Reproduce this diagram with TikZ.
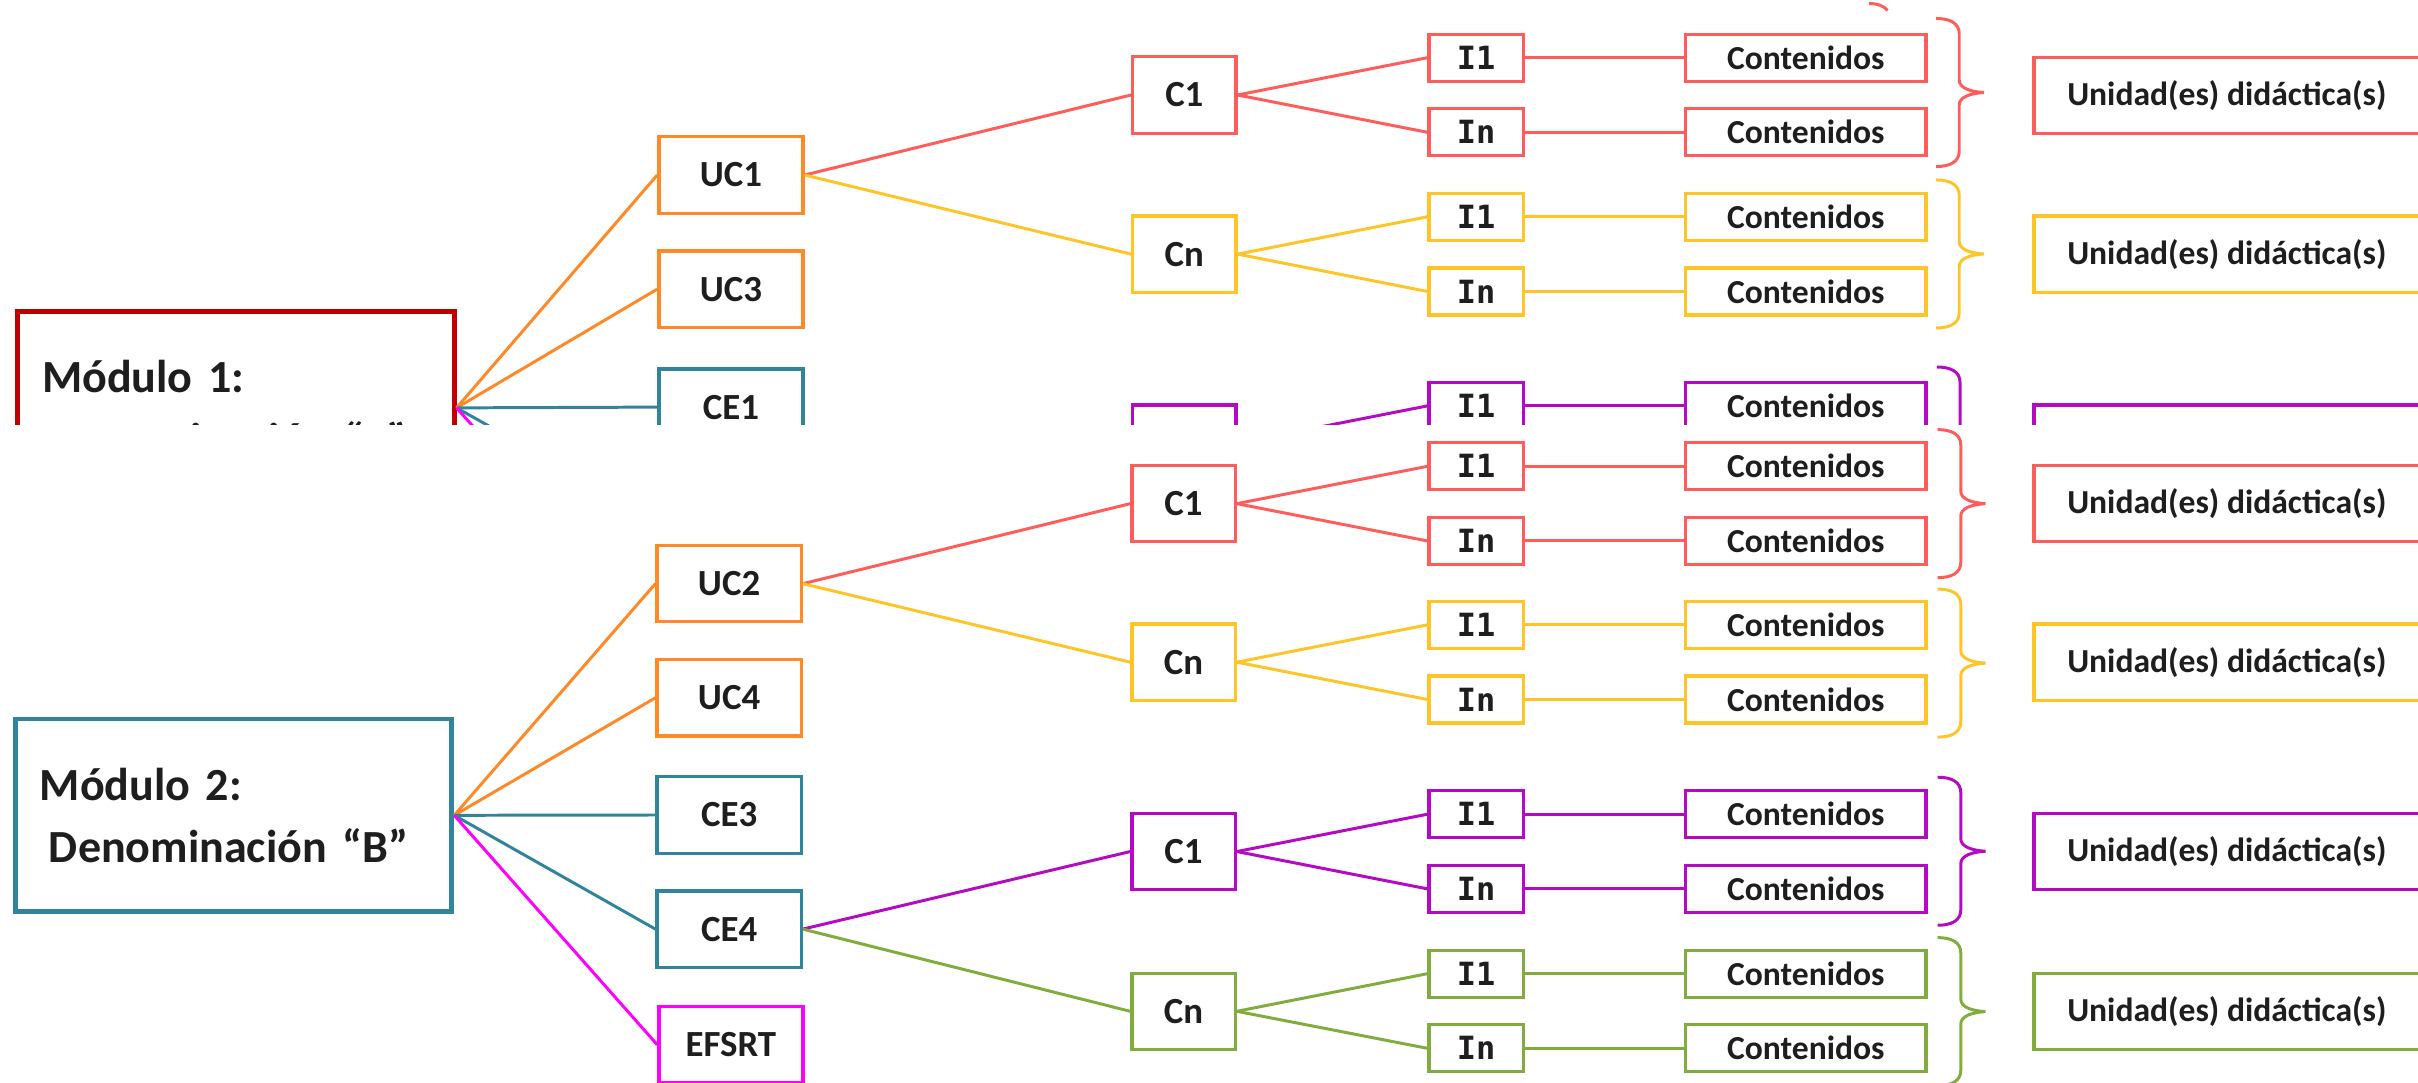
\documentclass[tikz,border=0pt]{standalone}
\usepackage{fontspec}
\setmainfont{Carlito}
\newfontfamily\codefont{DejaVu Sans Mono}

\definecolor{redc}{RGB}{255,92,92}
\definecolor{yellowc}{RGB}{255,196,40}
\definecolor{orangec}{RGB}{255,137,40}
\definecolor{tealc}{RGB}{49,132,155}
\definecolor{magc}{RGB}{255,0,255}
\definecolor{purplec}{RGB}{180,10,195}
\definecolor{greenc}{RGB}{130,172,62}
\definecolor{darkredc}{RGB}{192,0,0}
\definecolor{txt}{RGB}{30,30,30}

\tikzset{
  modbox/.style={draw, line width=1.8pt, minimum width=5.66cm, minimum height=2.5cm,
    text width=5.03cm, inner xsep=0.3cm, align=left, text=txt,
    font=\fontsize{17}{23}\selectfont\bfseries},
  ucbox/.style={draw, line width=1.2pt, minimum width=1.87cm, minimum height=0.99cm,
    inner sep=0pt, text=txt, font=\fontsize{13.6}{16}\selectfont\bfseries},
  cbox/.style={ucbox, minimum width=1.34cm},
  ibox/.style={draw, line width=1.2pt, minimum width=1.22cm, minimum height=0.61cm,
    inner sep=0pt, text=txt, font=\fontsize{11.8}{13}\codefont\bfseries},
  contbox/.style={draw, line width=1.2pt, minimum width=3.12cm, minimum height=0.61cm,
    inner sep=0pt, text=txt, font=\fontsize{12.4}{14}\selectfont\bfseries},
  unibox/.style={contbox, minimum width=5.0cm, minimum height=0.99cm},
  link/.style={line width=1.1pt},
  rbrace/.pic={
    \draw[line width=1.1pt, pic actions] (0,-48) .. controls (9,-48) and (15,-45) .. (15,-38)
      -- (15,-8) .. controls (15,-3) and (22,-0.5) .. (31,0)
      .. controls (22,0.5) and (15,3) .. (15,8) -- (15,38)
      .. controls (15,45) and (9,48) .. (0,48);
  }
}

\begin{document}
\begin{tikzpicture}[x=0.02cm, y=-0.02cm]
\useasboundingbox (0,0) rectangle (1568,702);
% Modulo 1 (upper capture, cut off)
\begin{scope}
  \clip (0,0) rectangle (1568,275);
  \node[modbox, draw=darkredc] (mod1) at (153, 264.5) {Módulo 1:\\\hspace*{0.12cm}Denominación “A”};
  \node[ucbox, draw=orangec] (uc1) at (474, 113.5) {UC1};
  \node[ucbox, draw=orangec] (uc3) at (474, 187.5) {UC3};
  \node[ucbox, draw=tealc] (ce1) at (474, 264) {CE1};
  \coordinate (ce2w) at (426.5, 337.5);
  \coordinate (efsw) at (428, 412.5);
  % Criterios UC1
  \node[cbox, draw=redc] (c1a) at (768, 61.6) {C1};
  \node[ibox, draw=redc] (i1a) at (957.2, 37.4) {I1};
  \node[ibox, draw=redc] (ina) at (957.2, 85.8) {In};
  \node[contbox, draw=redc] (ct1a) at (1171, 37.4) {Contenidos};
  \node[contbox, draw=redc] (ctna) at (1171, 85.8) {Contenidos};
  \pic[draw=redc] at (1255.5, 60) {rbrace};
  \node[unibox, draw=redc] (ua) at (1444, 61.9) {Unidad(es) didáctica(s)};
  %
  \node[cbox, draw=yellowc] (cnb) at (768, 164.8) {Cn};
  \node[ibox, draw=yellowc] (i1b) at (957.2, 140.6) {I1};
  \node[ibox, draw=yellowc] (inb) at (957.2, 189) {In};
  \node[contbox, draw=yellowc] (ct1b) at (1171, 140.6) {Contenidos};
  \node[contbox, draw=yellowc] (ctnb) at (1171, 189) {Contenidos};
  \pic[draw=yellowc] at (1255.5, 164.7) {rbrace};
  \node[unibox, draw=yellowc] (ub) at (1444, 164.8) {Unidad(es) didáctica(s)};
  %
  \node[cbox, draw=purplec] (c1c) at (768, 287.4) {C1};
  \node[ibox, draw=purplec] (i1c) at (957.2, 263.2) {I1};
  \node[contbox, draw=purplec] (ct1c) at (1171, 263.2) {Contenidos};
  \pic[draw=purplec] at (1256, 286) {rbrace};
  \node[unibox, draw=purplec] (uc) at (1444, 287.4) {Unidad(es) didáctica(s)};
  % Connectors
  \draw[link, orangec] (mod1.east) -- (uc1.west);
  \draw[link, orangec] (mod1.east) -- (uc3.west);
  \draw[link, tealc] (mod1.east) -- (ce1.west);
  \draw[link, tealc] (mod1.east) -- (ce2w);
  \draw[link, magc] (mod1.east) -- (efsw);
  \draw[link, redc] (uc1.east) -- (c1a.west);
  \draw[link, yellowc] (uc1.east) -- (cnb.west);
  \draw[link, redc] (c1a.east) -- (i1a.west);
  \draw[link, redc] (c1a.east) -- (ina.west);
  \draw[link, redc] (i1a) -- (ct1a);
  \draw[link, redc] (ina) -- (ctna);
  \draw[link, yellowc] (cnb.east) -- (i1b.west);
  \draw[link, yellowc] (cnb.east) -- (inb.west);
  \draw[link, yellowc] (i1b) -- (ct1b);
  \draw[link, yellowc] (inb) -- (ctnb);
  \draw[link, purplec] (c1c.east) -- (i1c.west);
  \draw[link, purplec] (i1c) -- (ct1c);
\end{scope}
% leftover of an upper brace
\draw[link, redc] (1212,2.3) .. controls (1218,2.3) and (1222,4.2) .. (1224,6.8);
% Modulo 2
\node[modbox, draw=tealc] (mod2) at (151.5, 528.7) {Módulo 2:\\\hspace*{0.12cm}Denominación “B”};
\node[ucbox, draw=orangec] (uc2) at (472.8, 378.5) {UC2};
\node[ucbox, draw=orangec] (uc4) at (472.8, 452.5) {UC4};
\node[ucbox, draw=tealc] (ce3) at (472.8, 528.5) {CE3};
\node[ucbox, draw=tealc] (ce4) at (472.8, 602.5) {CE4};
\node[ucbox, draw=magc] (efsrt) at (474, 677.5) {EFSRT};
% Criterios UC2
\node[cbox, draw=redc] (c1r) at (767.5, 326.6) {C1};
\node[ibox, draw=redc] (i1r) at (957.2, 302.4) {I1};
\node[ibox, draw=redc] (inr) at (957.2, 350.8) {In};
\node[contbox, draw=redc] (ct1r) at (1171, 302.4) {Contenidos};
\node[contbox, draw=redc] (ctnr) at (1171, 350.8) {Contenidos};
\pic[draw=redc] at (1256.5, 326.6) {rbrace};
\node[unibox, draw=redc] (ur) at (1444, 326.6) {Unidad(es) didáctica(s)};
%
\node[cbox, draw=yellowc] (cny) at (767.5, 429.4) {Cn};
\node[ibox, draw=yellowc] (i1y) at (957.2, 405.2) {I1};
\node[ibox, draw=yellowc] (iny) at (957.2, 453.6) {In};
\node[contbox, draw=yellowc] (ct1y) at (1171, 405.2) {Contenidos};
\node[contbox, draw=yellowc] (ctny) at (1171, 453.6) {Contenidos};
\pic[draw=yellowc] at (1256.5, 430) {rbrace};
\node[unibox, draw=yellowc] (uy) at (1444, 429.4) {Unidad(es) didáctica(s)};
% Criterios CE4
\node[cbox, draw=purplec] (c1p) at (767.5, 552.2) {C1};
\node[ibox, draw=purplec] (i1p) at (957.2, 528) {I1};
\node[ibox, draw=purplec] (inp) at (957.2, 576.4) {In};
\node[contbox, draw=purplec] (ct1p) at (1171, 528) {Contenidos};
\node[contbox, draw=purplec] (ctnp) at (1171, 576.4) {Contenidos};
\pic[draw=purplec] at (1256.5, 552) {rbrace};
\node[unibox, draw=purplec] (up) at (1444, 552.2) {Unidad(es) didáctica(s)};
%
\node[cbox, draw=greenc] (cng) at (767.5, 655.8) {Cn};
\node[ibox, draw=greenc] (i1g) at (957.2, 631.4) {I1};
\node[ibox, draw=greenc] (ing) at (957.2, 679.8) {In};
\node[contbox, draw=greenc] (ct1g) at (1171, 631.4) {Contenidos};
\node[contbox, draw=greenc] (ctng) at (1171, 679.8) {Contenidos};
\pic[draw=greenc] at (1256.5, 656) {rbrace};
\node[unibox, draw=greenc] (ug) at (1444, 655.8) {Unidad(es) didáctica(s)};
% Connectors
\draw[link, orangec] (mod2.east) -- (uc2.west);
\draw[link, orangec] (mod2.east) -- (uc4.west);
\draw[link, tealc] (mod2.east) -- (ce3.west);
\draw[link, tealc] (mod2.east) -- (ce4.west);
\draw[link, magc] (mod2.east) -- (efsrt.west);
\draw[link, redc] (uc2.east) -- (c1r.west);
\draw[link, yellowc] (uc2.east) -- (cny.west);
\draw[link, purplec] (ce4.east) -- (c1p.west);
\draw[link, greenc] (ce4.east) -- (cng.west);
%
\draw[link, redc] (c1r.east) -- (i1r.west);
\draw[link, redc] (c1r.east) -- (inr.west);
\draw[link, redc] (i1r) -- (ct1r);
\draw[link, redc] (inr) -- (ctnr);
\draw[link, yellowc] (cny.east) -- (i1y.west);
\draw[link, yellowc] (cny.east) -- (iny.west);
\draw[link, yellowc] (i1y) -- (ct1y);
\draw[link, yellowc] (iny) -- (ctny);
\draw[link, purplec] (c1p.east) -- (i1p.west);
\draw[link, purplec] (c1p.east) -- (inp.west);
\draw[link, purplec] (i1p) -- (ct1p);
\draw[link, purplec] (inp) -- (ctnp);
\draw[link, greenc] (cng.east) -- (i1g.west);
\draw[link, greenc] (cng.east) -- (ing.west);
\draw[link, greenc] (i1g) -- (ct1g);
\draw[link, greenc] (ing) -- (ctng);
\end{tikzpicture}
\end{document}
